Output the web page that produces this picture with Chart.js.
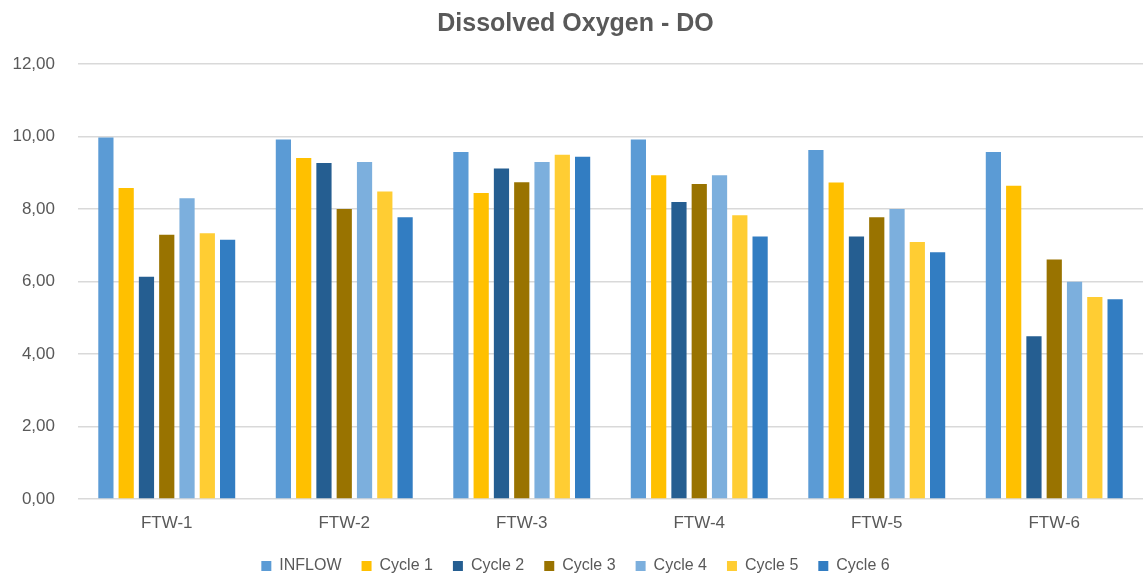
<!DOCTYPE html>
<html>
<head>
<meta charset="utf-8">
<title>Dissolved Oxygen - DO</title>
<script src="https://cdn.jsdelivr.net/npm/chart.js@4/dist/chart.umd.min.js"></script>
<style>
  body { margin: 0; background: #fff; }
  #wrap { width: 1143px; height: 581px; }
</style>
</head>
<body>
<div id="wrap"><canvas id="doChart" width="1143" height="581"></canvas></div>
<script>
// Chart data
const sites = ['FTW-1', 'FTW-2', 'FTW-3', 'FTW-4', 'FTW-5', 'FTW-6'];
const inflow = [9.97, 9.92, 9.57, 9.92, 9.63, 9.57];
const cycle1 = [8.58, 9.41, 8.44, 8.93, 8.73, 8.64];
const cycle2 = [6.13, 9.27, 9.12, 8.19, 7.24, 4.49];
const cycle3 = [7.29, 8.00, 8.74, 8.69, 7.77, 6.61];
const cycle4 = [8.30, 9.30, 9.30, 8.93, 8.00, 5.99];
const cycle5 = [7.33, 8.48, 9.50, 7.83, 7.09, 5.57];
const cycle6 = [7.15, 7.77, 9.44, 7.24, 6.81, 5.51];
const yTicks = [0, 2, 4, 6, 8, 10, 12];

const grey = '#595959';
const fontFamily = '"Liberation Sans", Arial, sans-serif';

// one dataset per series
function series(label, data, color) {
  return {
    label: label,
    data: data,
    backgroundColor: color,
    borderWidth: 0,
    categoryPercentage: 0.8,
    barPercentage: 0.75
  };
}

const ctx = document.getElementById('doChart').getContext('2d');
const chart = new Chart(ctx, {
  type: 'bar',
  data: {
    labels: sites,
    datasets: [
      series('INFLOW', inflow, '#5B9BD5'),
      series('Cycle 1', cycle1, '#FFC000'),
      series('Cycle 2', cycle2, '#255E91'),
      series('Cycle 3', cycle3, '#997300'),
      series('Cycle 4', cycle4, '#7CAFDD'),
      series('Cycle 5', cycle5, '#FFCD33'),
      series('Cycle 6', cycle6, '#327DC2')
    ]
  },
  options: {
    responsive: false,
    animation: false,
    layout: {
      padding: { left: 8, right: 0, top: 0, bottom: -3 }
    },
    plugins: {
      title: {
        display: true,
        text: 'Dissolved Oxygen - DO',
        color: grey,
        font: { family: fontFamily, size: 25, weight: 'bold' },
        padding: { top: 9, bottom: 25 }
      },
      legend: {
        position: 'bottom',
        labels: {
          color: grey,
          font: { family: fontFamily, size: 16 },
          boxWidth: 10,
          boxHeight: 10,
          padding: 20
        }
      },
      tooltip: { enabled: false }
    },
    scales: {
      x: {
        grid: { display: false },
        border: { display: false },
        afterFit: axis => { axis.height = 39; },
        ticks: {
          color: grey,
          font: { family: fontFamily, size: 17 },
          padding: 6
        }
      },
      y: {
        min: 0,
        max: 12,
        afterBuildTicks: axis => {
          axis.ticks = yTicks.map(v => ({ value: v }));
        },
        afterFit: axis => { axis.width = 70; },
        grid: { color: '#D9D9D9', lineWidth: 1.5, drawTicks: false },
        border: { display: false },
        ticks: {
          color: grey,
          font: { family: fontFamily, size: 17 },
          padding: 23,
          callback: value => value.toFixed(2).replace('.', ',')
        }
      }
    }
  }
});
</script>
</body>
</html>
